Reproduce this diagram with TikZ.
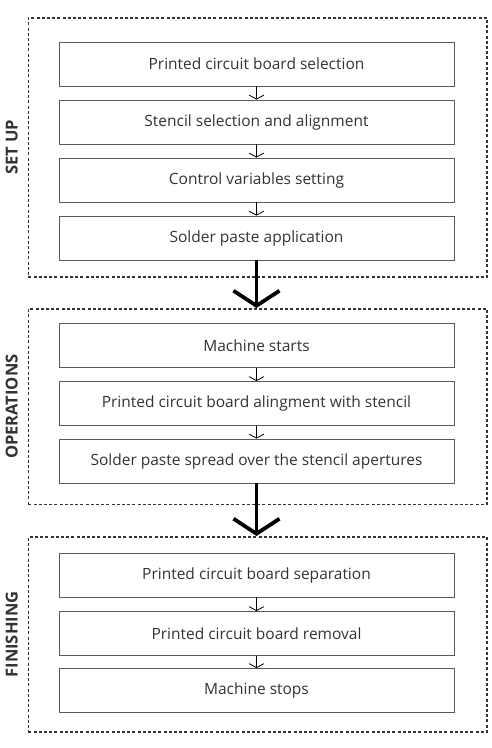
\documentclass[tikz,border=0pt]{standalone}
\usepackage{fontspec}
\setmainfont{Open Sans}
\usetikzlibrary{arrows.meta,positioning}
\definecolor{txtgray}{HTML}{333333}
\definecolor{boxgray}{HTML}{5A5A5A}
\tikzset{stage/.style={draw=black!80, line width=1.9pt, dash pattern=on 3pt off 2.2pt, minimum width=458.5pt, inner sep=0pt},
  stagelab/.style={font=\fontsize{16.5}{18}\selectfont\bfseries, text=txtgray, rotate=90, anchor=south, inner sep=2pt},
  stepbox/.style={draw=boxgray, line width=0.9pt, minimum width=395pt, minimum height=44pt, font=\fontsize{15.5}{18}\selectfont, text=txtgray, inner sep=0pt},
  sarr/.style={-{Straight Barb[length=4pt, width=15pt]}, line width=0.8pt, black},
  barr/.style={-{Straight Barb[length=15pt, width=46pt]}, line width=3.8pt, black}}
\begin{document}
\begin{tikzpicture}[x=1pt,y=-1pt]
\useasboundingbox (0,0) rectangle (492,748);
% ---- set up ----
\node[stage, minimum height=259pt, anchor=north west] (setup) at (27.5,17) {};
\node[stagelab] at ([xshift=-7.5pt]setup.west) {SET UP};
\node[stepbox] (s1) at (256.5,64) {Printed circuit board selection};
\node[stepbox] (s2) at (256.5,122) {Stencil selection and alignment};
\node[stepbox] (s3) at (256.5,180) {Control variables setting};
\node[stepbox] (s4) at (256.5,238) {Solder paste application};
\foreach \a/\b in {s1/s2,s2/s3,s3/s4} \draw[sarr] (\a) -- (\b);
% ---- operations ----
\node[stage, minimum height=195.5pt, anchor=north west] (oper) at (27.5,308) {};
\node[stagelab] at ([xshift=-7.5pt]oper.west) {OPERATIONS};
\node[stepbox] (o1) at (256.5,345.5) {Machine starts};
\node[stepbox] (o2) at (256.5,403.5) {Printed circuit board alingment with stencil};
\node[stepbox] (o3) at (256.5,461) {Solder paste spread over the stencil apertures};
\foreach \a/\b in {o1/o2,o2/o3} \draw[sarr] (\a) -- (\b);
% ---- finishing ----
\node[stage, minimum height=195pt, anchor=north west] (fin) at (27.5,536) {};
\node[stagelab] at ([xshift=-7.5pt]fin.west) {FINISHING};
\node[stepbox] (f1) at (256.5,575) {Printed circuit board separation};
\node[stepbox] (f2) at (256.5,633.5) {Printed circuit board removal};
\node[stepbox] (f3) at (256.5,690.5) {Machine stops};
\foreach \a/\b in {f1/f2,f2/f3} \draw[sarr] (\a) -- (\b);
% ---- between stages ----
\draw[barr] (s4.south) -- (s4.south |- oper.north);
\draw[barr] (o3.south) -- (o3.south |- fin.north);
\end{tikzpicture}
\end{document}
